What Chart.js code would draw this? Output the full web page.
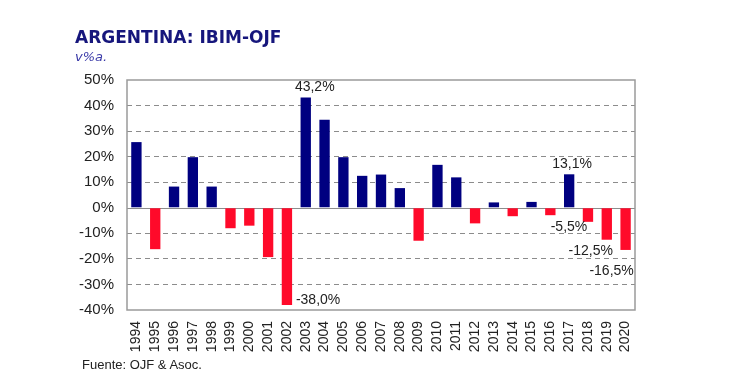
<!DOCTYPE html>
<html lang="es">
  <head>
    <meta charset="UTF-8" />
    <title>Argentina IBIM-OJF</title>
    <script src="https://cdn.jsdelivr.net/npm/chart.js"></script>
    <style>
      body {
        margin: 0;
        padding: 0;
        background: #fff;
      }
      .wrap {
        position: relative;
        width: 730px;
        height: 384px;
      }
      .title {
        position: absolute;
        left: 75px;
        top: 27px;
        font-family: "DejaVu Sans", Verdana, sans-serif;
        font-weight: bold;
        font-size: 17px;
        color: #16167c;
      }
      .subtitle {
        position: absolute;
        left: 75px;
        top: 49px;
        font-family: "DejaVu Sans", Verdana, sans-serif;
        font-style: italic;
        font-size: 13px;
        color: #3a3aa8;
      }
      .source {
        position: absolute;
        left: 82px;
        top: 357px;
        font-family: "Liberation Sans", Arial, sans-serif;
        font-size: 13px;
        color: #222;
      }
      canvas {
        position: absolute;
        left: 0;
        top: 0;
      }
    </style>
  </head>
  <body>
    <div class="wrap">
      <canvas id="chart" width="730" height="384"></canvas>
      <div class="title">ARGENTINA: IBIM-OJF</div>
      <div class="subtitle">v%a.</div>
      <div class="source">Fuente: OJF &amp; Asoc.</div>
    </div>

    <script>
      const years = [
        "1994", "1995", "1996", "1997", "1998", "1999", "2000", "2001", "2002",
        "2003", "2004", "2005", "2006", "2007", "2008", "2009", "2010", "2011",
        "2012", "2013", "2014", "2015", "2016", "2017", "2018", "2019", "2020",
      ];
      const growth = [
        25.7, -16.2, 8.3, 19.8, 8.3, -8.0, -7.0, -19.3, -38.0,
        43.2, 34.4, 19.8, 12.5, 13.0, 7.7, -12.9, 16.8, 11.9,
        -6.1, 2.1, -3.3, 2.3, -2.9, 13.1, -5.5, -12.5, -16.5,
      ];
      const valueLabels = {
        2002: "-38,0%",
        2003: "43,2%",
        2017: "13,1%",
        2018: "-5,5%",
        2019: "-12,5%",
        2020: "-16,5%",
      };
      const yTicks = [50, 40, 30, 20, 10, 0, -10, -20, -30, -40];

      const navy = "#000080";
      const red = "#ff0a2a";

      // box around plot, solid zero line
      const frame = {
        id: "frame",
        beforeDatasetsDraw(chart) {
          const { ctx, chartArea: a, scales } = chart;
          const y0 = scales.y.getPixelForValue(0);
          ctx.save();
          ctx.strokeStyle = "#8c8c8c";
          ctx.lineWidth = 1;
          ctx.beginPath();
          ctx.moveTo(a.left, Math.round(y0) + 0.5);
          ctx.lineTo(a.right, Math.round(y0) + 0.5);
          ctx.stroke();
          ctx.lineWidth = 1.5;
          ctx.strokeStyle = "#9a9a9a";
          ctx.strokeRect(a.left, a.top, a.right - a.left, a.bottom - a.top);
          ctx.restore();
        },
      };

      const barLabels = {
        id: "barLabels",
        afterDatasetsDraw(chart) {
          const { ctx } = chart;
          const bars = chart.getDatasetMeta(0).data;
          ctx.save();
          ctx.font = '14px "Liberation Sans", Arial, sans-serif';
          ctx.fillStyle = "#222";
          ctx.textBaseline = "middle";
          years.forEach((yr, i) => {
            const txt = valueLabels[yr];
            if (!txt) return;
            const b = bars[i];
            if (yr === "2002") {
              ctx.textAlign = "left";
              ctx.fillText(txt, b.x + 9, b.y - 5);
            } else if (growth[i] > 0) {
              ctx.textAlign = "center";
              ctx.fillText(txt, b.x + (yr === "2003" ? 9 : 3), b.y - 10);
            } else {
              ctx.textAlign = "center";
              const dx = { 2018: -19, 2019: -16, 2020: -14 }[yr];
              const dy = { 2018: 5, 2019: 11, 2020: 21 }[yr];
              ctx.fillText(txt, b.x + dx, b.y + dy);
            }
          });
          ctx.restore();
        },
      };

      new Chart(document.getElementById("chart"), {
        type: "bar",
        data: {
          labels: years,
          datasets: [
            {
              data: growth,
              backgroundColor: growth.map((v) => (v < 0 ? red : navy)),
              barPercentage: 0.55,
              categoryPercentage: 1,
            },
          ],
        },
        options: {
          responsive: false,
          animation: false,
          layout: { padding: { left: 40, right: 95, top: 80, bottom: 24 } },
          plugins: {
            legend: { display: false },
            tooltip: { enabled: false },
          },
          scales: {
            x: {
              grid: { display: false, drawTicks: false },
              border: { display: false },
              ticks: {
                autoSkip: false,
                minRotation: 90,
                maxRotation: 90,
                padding: 11,
                color: "#222",
                font: { family: '"Liberation Sans", Arial, sans-serif', size: 14 },
              },
              afterFit(s) {
                s.height = 50;
              },
            },
            y: {
              min: -40,
              max: 50,
              afterBuildTicks(s) {
                s.ticks = yTicks.map((v) => ({ value: v }));
              },
              grid: {
                drawTicks: false,
                color: (c) =>
                  c.tick && (c.tick.value === 0 || c.tick.value === 50 || c.tick.value === -40)
                    ? "rgba(0,0,0,0)"
                    : "#8c8c8c",
              },
              border: { display: false, dash: [5, 4] },
              ticks: {
                padding: 13,
                color: "#222",
                font: { family: '"Liberation Sans", Arial, sans-serif', size: 15 },
                callback: (v) => v + "%",
              },
              afterFit(s) {
                s.width = 87;
              },
            },
          },
        },
        plugins: [frame, barLabels],
      });
    </script>
  </body>
</html>
